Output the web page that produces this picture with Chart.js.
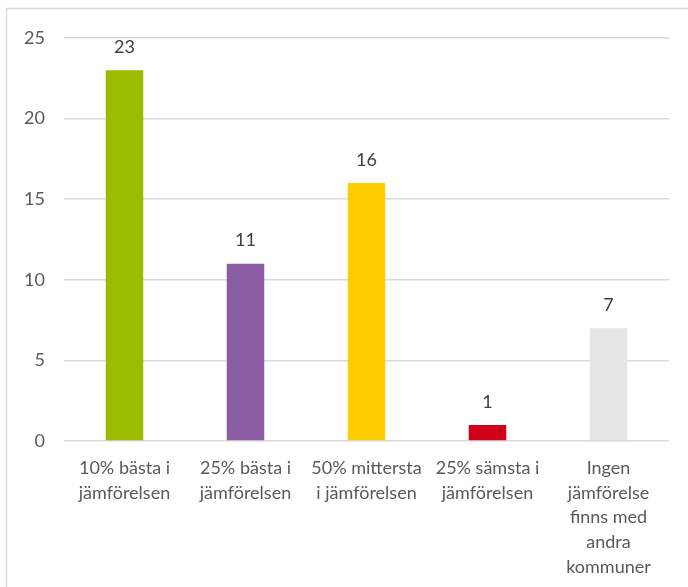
<!DOCTYPE html>
<html>
<head>
<meta charset="utf-8">
<script src="https://cdn.jsdelivr.net/npm/chart.js@4"></script>
<style>
  html, body { margin: 0; padding: 0; background: #fff; }
  #wrap { width: 688px; height: 587px; position: relative; }
</style>
</head>
<body>
<div id="wrap"><canvas id="barChart"></canvas></div>
<script>
// Data
const categories = [
    ['10% bästa i', 'jämförelsen'],
    ['25% bästa i', 'jämförelsen'],
    ['50% mittersta', 'i jämförelsen'],
    ['25% sämsta i', 'jämförelsen'],
    ['Ingen', 'jämförelse', 'finns med', 'andra', 'kommuner']
];
const counts = [23, 11, 16, 1, 7];
const barColors = ['#9bbb00', '#8b5ba3', '#ffcc00', '#d0021b', '#e6e6e6'];
const yTicks = [0, 5, 10, 15, 20, 25];

const FONT = 'Lato, "Open Sans", sans-serif';

// Frame around the chart (runs off the bottom/right edge like the original)
const framePlugin = {
    id: 'frame',
    beforeDraw(chart) {
        const ctx = chart.ctx;
        ctx.save();
        ctx.strokeStyle = '#d9d9d9';
        ctx.lineWidth = 1.5;
        ctx.strokeRect(6.5, 8.5, 720, 620);
        ctx.restore();
    }
};

// Value labels above bars
const valueLabels = {
    id: 'valueLabels',
    afterDatasetsDraw(chart) {
        const ctx = chart.ctx;
        const meta = chart.getDatasetMeta(0);
        ctx.save();
        ctx.fillStyle = '#404040';
        ctx.font = '18px ' + FONT;
        ctx.textAlign = 'center';
        ctx.textBaseline = 'middle';
        meta.data.forEach((bar, i) => {
            ctx.fillText(String(counts[i]), bar.x, bar.y - 23);
        });
        ctx.restore();
    }
};

new Chart(document.getElementById('barChart'), {
    type: 'bar',
    data: {
        labels: categories,
        datasets: [{
            data: counts,
            backgroundColor: barColors,
            borderWidth: 0,
            barPercentage: 0.31,
            categoryPercentage: 1
        }]
    },
    options: {
        responsive: true,
        maintainAspectRatio: false,
        animation: false,
        layout: { padding: { top: 38, right: 19, bottom: 0, left: 0 } },
        plugins: {
            legend: { display: false },
            tooltip: { enabled: false }
        },
        scales: {
            x: {
                grid: { display: false },
                border: { display: false },
                ticks: {
                    color: '#595959',
                    font: { family: FONT, size: 18, lineHeight: 1.37 },
                    padding: 7,
                    maxRotation: 0,
                    autoSkip: false
                },
                afterFit(scale) { scale.height = 146; }
            },
            y: {
                min: 0,
                max: 25,
                afterBuildTicks(scale) {
                    scale.ticks = yTicks.map(v => ({ value: v }));
                },
                grid: { color: '#d9d9d9', lineWidth: 1.5, drawTicks: false },
                border: { display: false },
                ticks: {
                    color: '#595959',
                    font: { family: FONT, size: 18 },
                    padding: 19
                },
                afterFit(scale) { scale.width = 64; }
            }
        }
    },
    plugins: [framePlugin, valueLabels]
});
</script>
</body>
</html>
